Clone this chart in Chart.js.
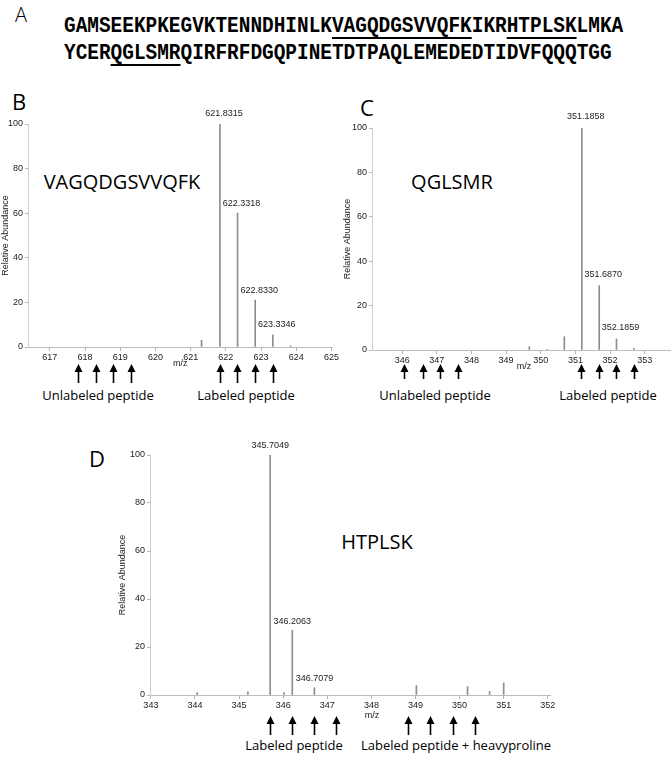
<!DOCTYPE html>
<html><head><meta charset="utf-8">
<script src="https://cdn.jsdelivr.net/npm/chart.js@4"></script>
<style>
body{margin:0;width:672px;height:757px;background:#fff;position:relative;overflow:hidden;font-family:'Open Sans',sans-serif;}
.abs{position:absolute;}
.lbl{position:absolute;transform:translate(-50%,-50%);white-space:nowrap;color:#000;line-height:1;}
.pane{position:absolute;}
</style></head><body>
<svg class="abs" style="left:0;top:0" width="672" height="80" id="seq"></svg>
<div class="lbl" style="left:21px;top:15px;font-size:20px;font-weight:300">A</div>

<div class="lbl" style="left:19px;top:101px;font-size:22px">B</div>
<div class="lbl" style="left:367px;top:107px;font-size:22px">C</div>
<div class="lbl" style="left:97px;top:458px;font-size:22px">D</div>

<div class="lbl" style="left:122px;top:182px;font-size:20px">VAGQDGSVVQFK</div>
<div class="lbl" style="left:452px;top:182px;font-size:20px">QGLSMR</div>
<div class="lbl" style="left:377px;top:542px;font-size:20px">HTPLSK</div>

<div class="lbl" style="left:98px;top:395px;font-size:13px">Unlabeled peptide</div>
<div class="lbl" style="left:246px;top:395px;font-size:13px">Labeled peptide</div>
<div class="lbl" style="left:435px;top:395px;font-size:13px">Unlabeled peptide</div>
<div class="lbl" style="left:608px;top:395px;font-size:13px">Labeled peptide</div>
<div class="lbl" style="left:294px;top:745px;font-size:13px">Labeled peptide</div>
<div class="lbl" style="left:456px;top:745px;font-size:13px">Labeled peptide + heavyproline</div>

<div class="pane" style="left:0;top:90px;width:340px;height:320px"><canvas id="cB"></canvas></div>
<div class="pane" style="left:340px;top:90px;width:332px;height:320px"><canvas id="cC"></canvas></div>
<div class="pane" style="left:115px;top:420px;width:445px;height:337px"><canvas id="cD"></canvas></div>

<script>
// ---------- data ----------
const seqLine1 = "GAMSEEKPKEGVKTENNDHINLKVAGQDGSVVQFKIKRHTPLSKLMKA";
const seqLine2 = "YCERQGLSMRQIRFRFDGQPINETDTPAQLEMEDEDTIDVFQQQTGG";
const underline1 = ["VAGQDGSVVQFK", "HTPLSK"];
const underline2 = ["QGLSMR"];

const mzB = [621.31, 621.8315, 622.3318, 622.8330, 623.3346, 623.84];
const abundB = [3, 100, 60, 21, 5.5, 0.5];
const peakLabelsB = ["", "621.8315", "622.3318", "622.8330", "623.3346", ""];
const arrowsB = [617.8, 618.3, 618.8, 619.3, 621.83, 622.33, 622.83, 623.33];
const ticksB = [617, 618, 619, 620, 621, 622, 623, 624, 625];

const mzC = [349.67, 350.19, 350.68, 351.1858, 351.6870, 352.1859, 352.69];
const abundC = [1.5, 0.3, 6, 100, 29, 5, 0.7];
const peakLabelsC = ["", "", "", "351.1858", "351.6870", "352.1859", ""];
const arrowsC = [346.05, 346.6, 347.1, 347.6, 351.15, 351.68, 352.17, 352.69];
const ticksC = [346, 347, 348, 349, 350, 351, 352, 353];

const mzD = [344.05, 345.2, 345.7049, 346.02, 346.2063, 346.7079, 349.02, 350.18, 350.68, 351.0];
const abundD = [1, 1.3, 100, 1, 27, 3, 4, 3.5, 1.5, 5];
const peakLabelsD = ["", "", "345.7049", "", "346.2063", "346.7079", "", "", "", ""];
const arrowsD = [345.7, 346.2, 346.7, 347.2, 348.82, 349.32, 349.84, 350.34];
const ticksD = [343, 344, 345, 346, 347, 348, 349, 350, 351, 352];

const yTicks = [0, 20, 40, 60, 80, 100];

// ---------- sequence ----------
(function(){
  const svg = document.getElementById('seq');
  const NS = 'http://www.w3.org/2000/svg';
  const x0 = 64, pitch = 11.65;
  function line(str, base, ulY, marks){
    const t = document.createElementNS(NS,'text');
    t.setAttribute('x', x0); t.setAttribute('y', base);
    t.setAttribute('font-family', '"Liberation Mono", "Courier New", monospace');
    t.setAttribute('font-weight', 'bold'); t.setAttribute('font-size', '22');
    t.setAttribute('textLength', (str.length*pitch).toFixed(1));
    t.setAttribute('lengthAdjust', 'spacingAndGlyphs');
    t.textContent = str; svg.appendChild(t);
    marks.forEach(m=>{
      const i = str.indexOf(m);
      const r = document.createElementNS(NS,'rect');
      r.setAttribute('x', x0 + i*pitch); r.setAttribute('y', ulY);
      r.setAttribute('width', m.length*pitch); r.setAttribute('height', 2);
      r.setAttribute('fill', '#000'); svg.appendChild(r);
    });
  }
  line(seqLine1, 32, 37, underline1);
  line(seqLine2, 59, 64, underline2);
})();

// ---------- charts ----------
const tickFont = {family: '"Liberation Sans", Arial, sans-serif', size: 9};
function annot(o){
  return {
    id: 'annot',
    afterDraw(chart){
      const ctx = chart.ctx, xs = chart.scales.x, ys = chart.scales.y, ca = chart.chartArea;
      ctx.save();
      ctx.fillStyle = '#222';
      ctx.font = '9px "Liberation Sans", Arial, sans-serif';
      ctx.textAlign = 'center'; ctx.textBaseline = 'middle';
      o.labels.forEach((t,i)=>{
        if(!t) return;
        const x = xs.getPixelForValue(o.mz[i]) + o.dx;
        const y = ys.getPixelForValue(o.ab[i]) - o.gap;
        ctx.fillText(t, x, y);
      });
      ctx.fillText('m/z', ca.left + (ca.right-ca.left)*o.mzFrac, ca.bottom + o.mzDy);
      ctx.strokeStyle = '#000'; ctx.fillStyle = '#000'; ctx.lineWidth = 1.6;
      o.arrows.forEach(v=>{
        const x = Math.round(xs.getPixelForValue(v)) + 0.5;
        const y1 = ca.bottom + o.tip, y2 = ca.bottom + o.tail;
        ctx.beginPath(); ctx.moveTo(x, y2); ctx.lineTo(x, y1 + 5); ctx.stroke();
        ctx.beginPath(); ctx.moveTo(x, y1); ctx.lineTo(x - 4, y1 + 8); ctx.lineTo(x + 4, y1 + 8); ctx.closePath(); ctx.fill();
      });
      ctx.restore();
    }
  };
}

function makeChart(id, mz, ab, labels, arrows, xTicks, xmin, xmax, yW, pad, titlePad, an){
  const pts = mz.map((x,i)=>({x: x, y: ab[i]}));
  new Chart(document.getElementById(id), {
    type: 'bar',
    data: {datasets: [{data: pts, backgroundColor: '#8e8e8e', barThickness: 1, categoryPercentage: 1, barPercentage: 1}]},
    options: {
      responsive: true, maintainAspectRatio: false, animation: false,
      layout: {padding: pad},
      plugins: {legend: {display: false}, tooltip: {enabled: false}},
      scales: {
        x: {
          type: 'linear', min: xmin, max: xmax, offset: false,
          afterBuildTicks: s => { s.ticks = xTicks.map(v=>({value: v})); },
          afterFit: s => { s.height = 20; },
          ticks: {font: tickFont, color: '#222', padding: 1, maxRotation: 0, autoSkip: false, callback: v => String(v)},
          grid: {display: true, drawOnChartArea: false, drawTicks: true, tickLength: 4, color: '#b5b5b5', offset: false},
          border: {color: '#bdbdbd'}
        },
        y: {
          min: 0, max: 100,
          afterBuildTicks: s => { s.ticks = yTicks.map(v=>({value: v})); },
          afterFit: s => { s.width = yW; },
          ticks: {font: tickFont, color: '#222', padding: 2},
          grid: {display: true, drawOnChartArea: false, drawTicks: true, tickLength: 3, color: '#b5b5b5'},
          border: {color: '#cfcfcf'},
          title: {display: true, text: 'Relative Abundance', font: tickFont, color: '#222', padding: {top: titlePad, bottom: 0}}
        }
      }
    },
    plugins: [annot(Object.assign({mz: mz, ab: ab, labels: labels, arrows: arrows}, an))]
  });
}

makeChart('cB', mzB, abundB, peakLabelsB, arrowsB, ticksB, 616.38, 625.03, 28,
  {top: 34, right: 5, bottom: 43, left: 0}, 0,
  {dx: 4, gap: 10, mzFrac: 0.5, mzDy: 17, tip: 17, tail: 36});
makeChart('cC', mzC, abundC, peakLabelsC, arrowsC, ticksC, 345.13, 353.73, 32,
  {top: 38, right: 2, bottom: 40, left: 0}, 2,
  {dx: 4, gap: 11, mzFrac: 0.51, mzDy: 17, tip: 14, tail: 29});
makeChart('cD', mzD, abundD, peakLabelsD, arrowsD, ticksD, 342.98, 352.05, 35,
  {top: 35, right: 10, bottom: 42, left: 0}, 2,
  {dx: 0, gap: 9, mzFrac: 0.555, mzDy: 21, tip: 21, tail: 40});
</script>
</body></html>
